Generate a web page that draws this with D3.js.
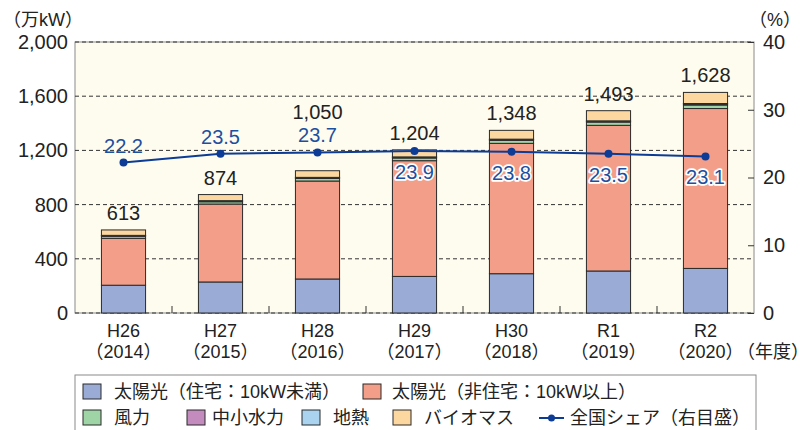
<!DOCTYPE html>
<html>
<head>
<meta charset="utf-8">
<script src="https://cdn.jsdelivr.net/npm/d3@7"></script>
<style>
  body { margin: 0; background: #fff; }
  svg text { font-family: "Liberation Sans", Arial, "Noto Sans CJK JP", sans-serif; fill: #222; }
  .narrow { font-feature-settings: "halt" 1; }
</style>
</head>
<body>
<div id="chart"></div>
<script>
// data
var categories = ["H26", "H27", "H28", "H29", "H30", "R1", "R2"];
var years = ["2014", "2015", "2016", "2017", "2018", "2019", "2020"];
var solarHome = [205, 229, 251, 270, 290, 310, 329];
var solarOther = [346, 575, 723, 854, 962, 1075, 1180];
var wind = [15, 17, 19, 20, 22, 24, 26];
var hydro = [5, 5, 5, 5, 6, 6, 8];
var geothermal = [2, 3, 3, 3, 3, 3, 3];
var biomass = [40, 45, 49, 52, 65, 75, 82];
var share = [22.2, 23.5, 23.7, 23.9, 23.8, 23.5, 23.1];
var leftTicks = [0, 400, 800, 1200, 1600, 2000];
var rightTicks = [0, 10, 20, 30, 40];

var seriesNames = ["太陽光（住宅：10kW未満）", "太陽光（非住宅：10kW以上）", "風力", "中小水力", "地熱", "バイオマス"];
var lineName = "全国シェア（右目盛）";

var keys = ["solarHome", "solarOther", "wind", "hydro", "geothermal", "biomass"];
var colors = {solarHome: "#9aabd6", solarOther: "#f29e88", wind: "#9fd4a6",
  hydro: "#c48bbf", geothermal: "#a9d3ef", biomass: "#fdd7a0"};

var rows = categories.map(function(c, i) {
  return {cat: c, year: years[i], solarHome: solarHome[i], solarOther: solarOther[i],
    wind: wind[i], hydro: hydro[i], geothermal: geothermal[i], biomass: biomass[i], share: share[i]};
});
rows.forEach(function(d) { d.total = d3.sum(keys, function(k) { return d[k]; }); });

// layout (plot box)
var W = 802, H = 430;
var pLeft = 75, pRight = 754, pTop = 42, pBottom = 313;

var svg = d3.select("#chart").append("svg")
  .attr("width", W).attr("height", H);

var x = d3.scaleBand()
  .domain(categories)
  .range([pLeft, pRight])
  .paddingInner(0.545)
  .paddingOuter(0.2725);
var y = d3.scaleLinear().domain([0, 2000]).range([pBottom, pTop]);
var yR = d3.scaleLinear().domain([0, 40]).range([pBottom, pTop]);

// plot background + frame
svg.append("rect")
  .attr("x", pLeft).attr("y", pTop)
  .attr("width", pRight - pLeft).attr("height", pBottom - pTop)
  .attr("fill", "#fefcee")
  .attr("stroke", "#8a8a8a").attr("stroke-width", 1);

// grid
svg.append("g").selectAll("line")
  .data(leftTicks)
  .join("line")
  .attr("x1", pLeft).attr("x2", pRight)
  .attr("y1", function(d) { return y(d); })
  .attr("y2", function(d) { return y(d); })
  .attr("stroke", "#333")
  .attr("stroke-width", 1)
  .attr("stroke-dasharray", "4,3");

// bottom boundary ticks
var step = x.step();
svg.append("g").selectAll("line")
  .data(d3.range(1, categories.length))
  .join("line")
  .attr("x1", function(i) { return pLeft + i * step; })
  .attr("x2", function(i) { return pLeft + i * step; })
  .attr("y1", pBottom).attr("y2", pBottom - 7)
  .attr("stroke", "#333");

// stacked bars
var stacked = d3.stack().keys(keys)(rows);
svg.append("g").selectAll("g")
  .data(stacked)
  .join("g")
  .attr("fill", function(s) { return colors[s.key]; })
  .selectAll("rect")
  .data(function(s) { return s; })
  .join("rect")
  .attr("x", function(d) { return x(d.data.cat); })
  .attr("width", x.bandwidth())
  .attr("y", function(d) { return y(d[1]); })
  .attr("height", function(d) { return y(d[0]) - y(d[1]); })
  .attr("stroke", "#2a2a2a")
  .attr("stroke-width", 1);

// axes
var yAxis = svg.append("g")
  .attr("transform", "translate(" + pLeft + ",0)")
  .call(d3.axisLeft(y).tickValues(leftTicks).tickSize(0).tickPadding(7).tickFormat(d3.format(",")));
yAxis.select(".domain").remove();
yAxis.selectAll("text").style("font-size", "20px");

var yAxisR = svg.append("g")
  .attr("transform", "translate(" + pRight + ",0)")
  .call(d3.axisRight(yR).tickValues(rightTicks).tickSizeInner(-6).tickSizeOuter(0).tickPadding(9));
yAxisR.select(".domain").remove();
yAxisR.selectAll("line").attr("stroke", "#333");
yAxisR.selectAll("text").style("font-size", "20px");

var xAxis = svg.append("g")
  .attr("transform", "translate(0," + pBottom + ")")
  .call(d3.axisBottom(x).tickSize(0).tickFormat(""));
xAxis.select(".domain").remove();
xAxis.selectAll(".tick").each(function(c, i) {
  var t = d3.select(this).append("text")
    .attr("class", "narrow")
    .attr("text-anchor", "middle")
    .style("font-size", "18px");
  t.append("tspan").attr("x", 0).attr("y", 24).text(c);
  t.append("tspan").attr("x", 0).attr("y", 45).text("（" + years[i] + "）");
});

// unit labels
svg.append("text").attr("class", "narrow").attr("x", 12).attr("y", 26)
  .style("font-size", "18px").text("（万kW）");
svg.append("text").attr("class", "narrow").attr("x", 792).attr("y", 26).attr("text-anchor", "end")
  .style("font-size", "18px").text("（%）");
svg.append("text").attr("class", "narrow").attr("x", 800).attr("y", 358).attr("text-anchor", "end")
  .style("font-size", "18px").text("（年度）");

// share line
var cx = function(d) { return x(d.cat) + x.bandwidth() / 2; };
var line = d3.line().x(cx).y(function(d) { return yR(d.share); });
svg.append("path")
  .datum(rows)
  .attr("d", line)
  .attr("fill", "none")
  .attr("stroke", "#0c3c95")
  .attr("stroke-width", 2);
svg.append("g").selectAll("circle")
  .data(rows)
  .join("circle")
  .attr("cx", cx)
  .attr("cy", function(d) { return yR(d.share); })
  .attr("r", 4)
  .attr("fill", "#0c3c95");

// share labels: above the point when it is clear of the bar, below otherwise
rows.forEach(function(d) {
  d.shareAbove = yR(d.share) < y(d.total) - 10;
  d.shareY = d.shareAbove ? yR(d.share) - 10 : yR(d.share) + 28;
});
svg.append("g").selectAll("text")
  .data(rows)
  .join("text")
  .attr("x", cx)
  .attr("y", function(d) { return d.shareY; })
  .attr("text-anchor", "middle")
  .style("font-size", "20px")
  .style("fill", "#1d4fa0")
  .attr("stroke", function(d) { return d.shareAbove ? "none" : "#fff"; })
  .attr("stroke-width", 3.5)
  .attr("stroke-linejoin", "round")
  .attr("paint-order", "stroke")
  .text(function(d) { return d3.format(".1f")(d.share); });

// total labels
svg.append("g").selectAll("text")
  .data(rows)
  .join("text")
  .attr("x", cx)
  .attr("y", function(d) {
    var ty = y(d.total) - 10;
    if (d.shareAbove && ty > d.shareY - 23 && ty < d.shareY + 25) ty = d.shareY - 23;
    return ty;
  })
  .attr("text-anchor", "middle")
  .style("font-size", "20px")
  .text(function(d) { return d3.format(",")(d.total); });

// legend
var lg = svg.append("g");
lg.append("rect")
  .attr("x", 75).attr("y", 375)
  .attr("width", 681).attr("height", 70)
  .attr("fill", "#fff")
  .attr("stroke", "#8a8a8a");

var legendItems = [
  {key: "solarHome", name: seriesNames[0], x: 83, y: 392, tx: 114},
  {key: "solarOther", name: seriesNames[1], x: 363, y: 392, tx: 392},
  {key: "wind", name: seriesNames[2], x: 83, y: 418, tx: 114},
  {key: "hydro", name: seriesNames[3], x: 187, y: 418, tx: 212},
  {key: "geothermal", name: seriesNames[4], x: 302, y: 418, tx: 333},
  {key: "biomass", name: seriesNames[5], x: 393, y: 418, tx: 424}
];
legendItems.forEach(function(it) {
  lg.append("rect")
    .attr("x", it.x).attr("y", it.y - 8)
    .attr("width", 18).attr("height", 15)
    .attr("fill", colors[it.key])
    .attr("stroke", "#2a2a2a");
  lg.append("text")
    .attr("x", it.tx).attr("y", it.y + 6)
    .style("font-size", "18px")
    .text(it.name);
});
lg.append("line")
  .attr("x1", 539).attr("x2", 564)
  .attr("y1", 418).attr("y2", 418)
  .attr("stroke", "#0c3c95").attr("stroke-width", 2);
lg.append("circle")
  .attr("cx", 551.5).attr("cy", 418).attr("r", 3.5)
  .attr("fill", "#0c3c95");
lg.append("text")
  .attr("x", 570).attr("y", 424)
  .style("font-size", "18px")
  .text(lineName);
</script>
</body>
</html>
